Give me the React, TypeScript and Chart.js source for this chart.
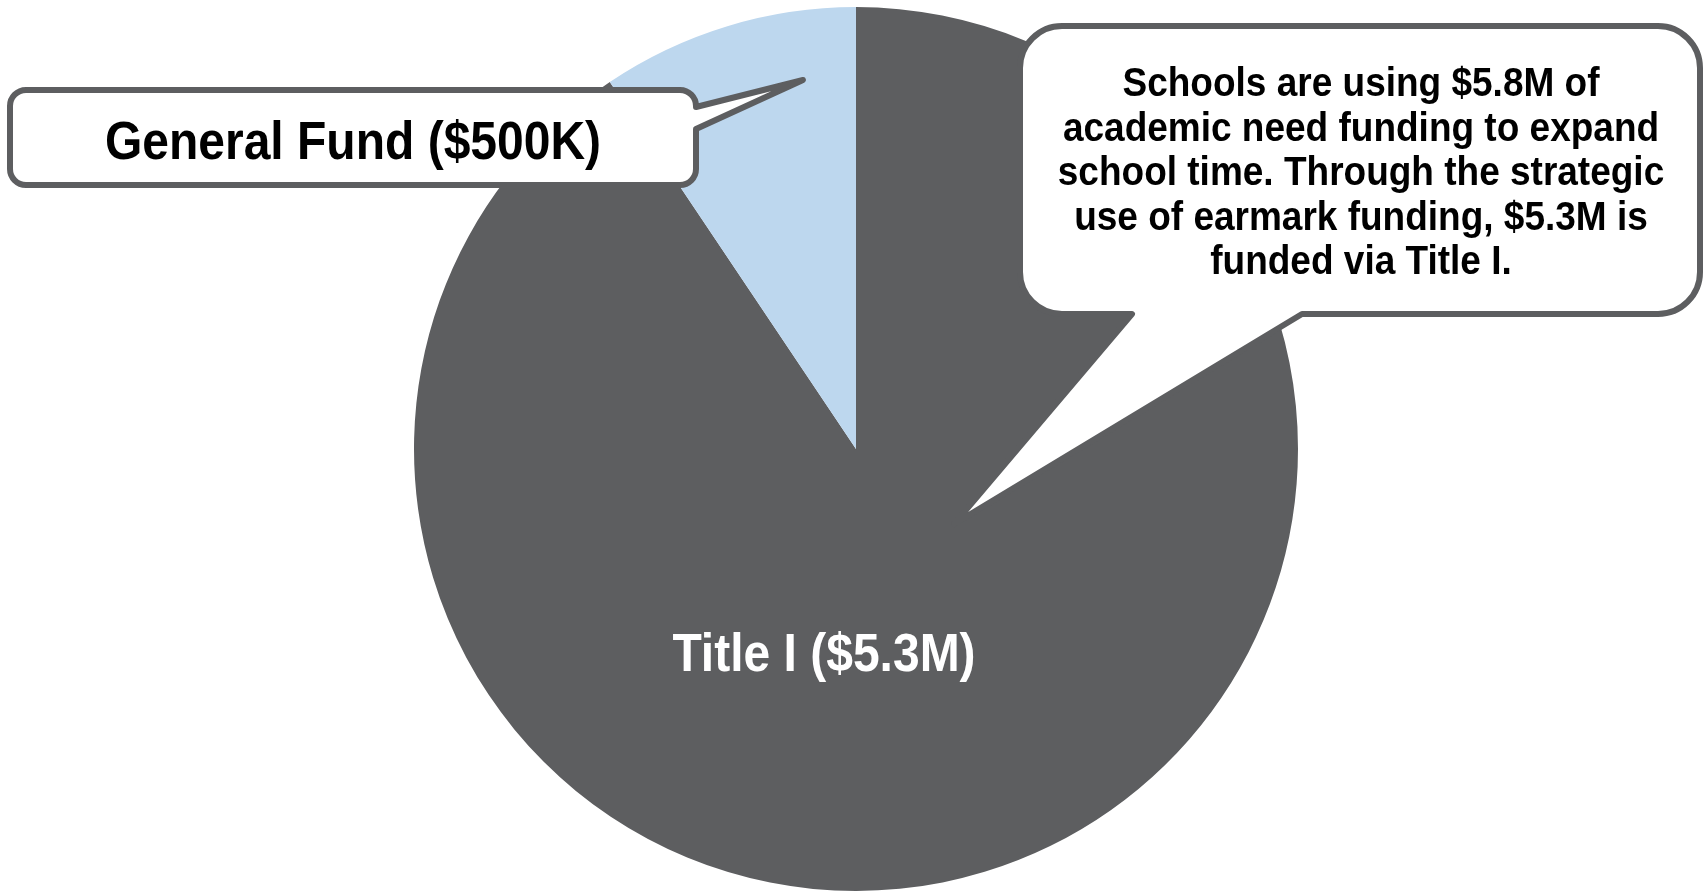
import React, { useEffect, useRef } from "react";
import { Chart, registerables } from "chart.js";

Chart.register(...registerables);

const categories = ["Title I ($5.3M)", "General Fund ($500K)"];
const values = [5.3, 0.55];
const colors = ["#5D5E60", "#BDD7EE"];
const noteLines = [
  "Schools are using $5.8M of",
  "academic need funding to expand",
  "school time. Through the strategic",
  "use of earmark funding, $5.3M is",
  "funded via Title I.",
];

const FONT = '"Liberation Sans", Arial, sans-serif';
const STROKE = "#5D5E60";
const SY = 1.12;

function drawText(ctx: CanvasRenderingContext2D, text: string, x: number, y: number, size: number, color: string) {
  ctx.save();
  ctx.font = `bold ${size}px ${FONT}`;
  ctx.fillStyle = color;
  ctx.textAlign = "center";
  ctx.textBaseline = "alphabetic";
  ctx.translate(x, y);
  ctx.scale(1, SY);
  ctx.fillText(text, 0, 0);
  ctx.restore();
}

const calloutPlugin = {
  id: "callouts",
  afterDraw(chart: any) {
    const ctx: CanvasRenderingContext2D = chart.ctx;
    const meta = chart.getDatasetMeta(0);
    const cx = meta.data[0].x;
    const cy = meta.data[0].y;

    // Title I label
    drawText(ctx, categories[0], cx - 32, cy + 222, 48, "#FFFFFF");

    ctx.save();
    ctx.lineWidth = 6;
    ctx.strokeStyle = STROKE;
    ctx.fillStyle = "#FFFFFF";
    ctx.lineJoin = "round";

    // General Fund callout
    {
      const l = 10, t = 90, r = 696, b = 185, rad = 16;
      ctx.beginPath();
      ctx.moveTo(l + rad, t);
      ctx.lineTo(r - rad, t);
      ctx.arcTo(r, t, r, t + rad, rad);
      ctx.lineTo(r, 107);
      ctx.lineTo(803, 80);
      ctx.lineTo(r, 129);
      ctx.lineTo(r, b - rad);
      ctx.arcTo(r, b, r - rad, b, rad);
      ctx.lineTo(l + rad, b);
      ctx.arcTo(l, b, l, b - rad, rad);
      ctx.lineTo(l, t + rad);
      ctx.arcTo(l, t, l + rad, t, rad);
      ctx.closePath();
      ctx.fill();
      ctx.stroke();
    }

    // Right note callout
    {
      const l = 1020, t = 26, r = 1700, b = 314, rad = 42;
      ctx.beginPath();
      ctx.moveTo(l + rad, t);
      ctx.lineTo(r - rad, t);
      ctx.arcTo(r, t, r, t + rad, rad);
      ctx.lineTo(r, b - rad);
      ctx.arcTo(r, b, r - rad, b, rad);
      ctx.lineTo(1302, b);
      ctx.lineTo(954, 524);
      ctx.lineTo(1132, b);
      ctx.lineTo(l + rad, b);
      ctx.arcTo(l, b, l, b - rad, rad);
      ctx.lineTo(l, t + rad);
      ctx.arcTo(l, t, l + rad, t, rad);
      ctx.closePath();
      ctx.fill();
      ctx.stroke();
    }
    ctx.restore();

    drawText(ctx, categories[1], 353, 159, 48, "#000000");
    noteLines.forEach((line, i) => {
      drawText(ctx, line, 1361, 96 + i * 44.5, 37, "#000000");
    });
  },
};

export default function App() {
  const ref = useRef<HTMLCanvasElement>(null);
  useEffect(() => {
    if (!ref.current) return;
    const chart = new Chart(ref.current, {
      type: "pie",
      data: {
        labels: categories,
        datasets: [
          {
            data: values,
            backgroundColor: colors,
            borderWidth: 0,
          },
        ],
      },
      options: {
        animation: false,
        responsive: true,
        maintainAspectRatio: false,
        layout: { padding: { top: 7, bottom: 2, left: 5, right: 0 } },
        plugins: {
          legend: { display: false },
          tooltip: { enabled: false },
        },
      },
      plugins: [calloutPlugin],
    });
    return () => chart.destroy();
  }, []);
  return (
    <div style={{ position: "absolute", left: 0, top: 0, width: 1707, height: 893, background: "#FFFFFF" }}>
      <canvas ref={ref} />
    </div>
  );
}
